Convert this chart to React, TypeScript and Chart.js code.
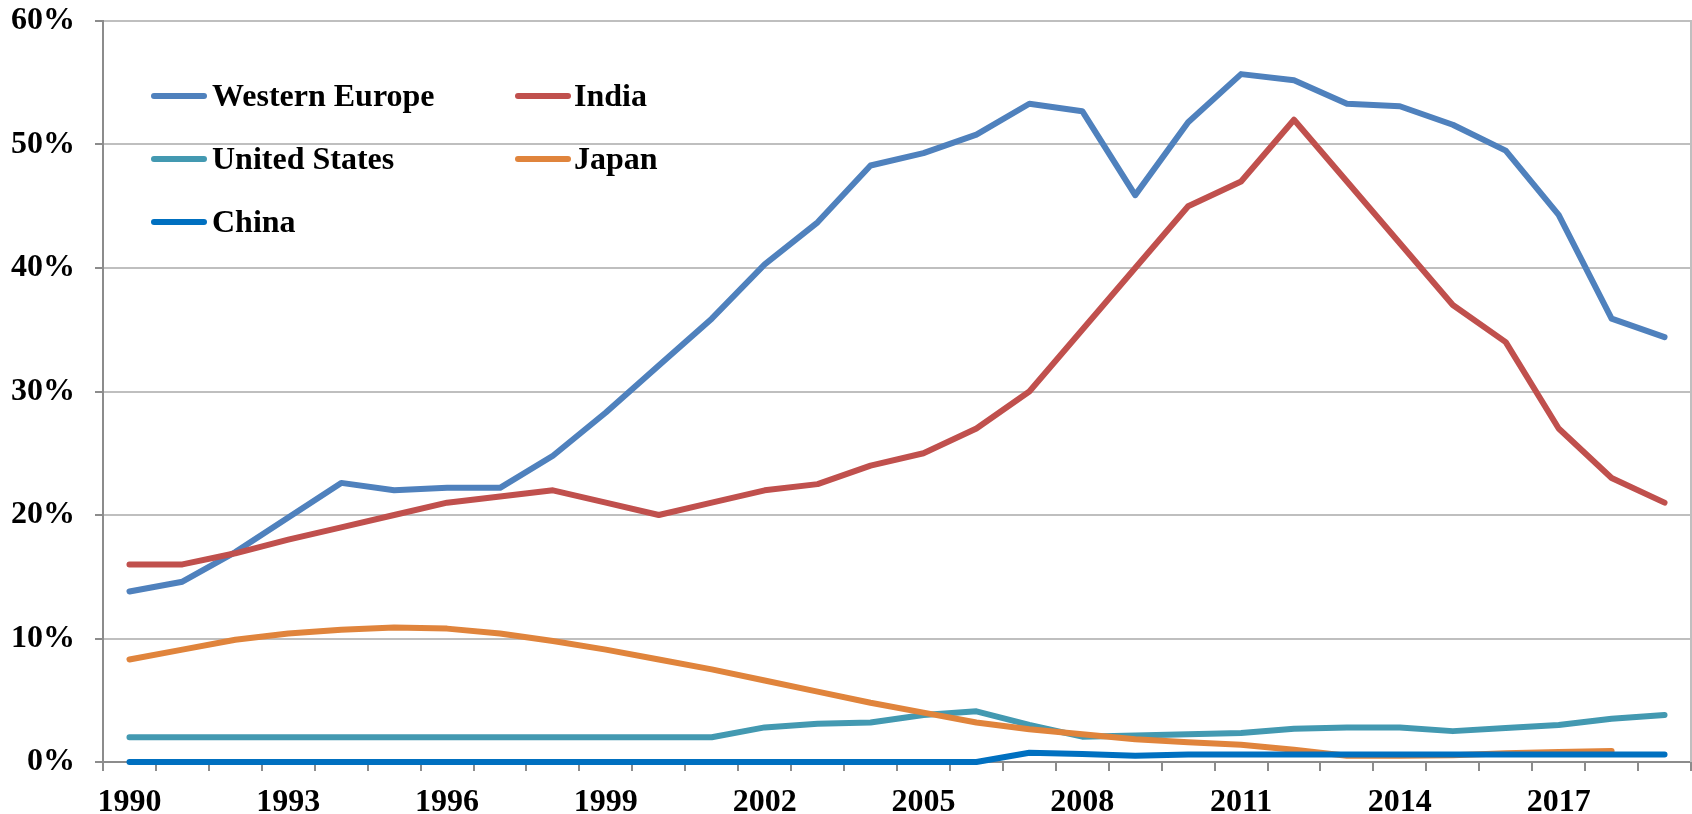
import React, { useEffect, useRef } from 'react';
import { Chart, registerables } from 'chart.js';

Chart.register(...registerables);

const years = [
  '1990', '1991', '1992', '1993', '1994', '1995', '1996', '1997', '1998', '1999',
  '2000', '2001', '2002', '2003', '2004', '2005', '2006', '2007', '2008', '2009',
  '2010', '2011', '2012', '2013', '2014', '2015', '2016', '2017', '2018', '2019',
];

const westernEurope = [
  13.8, 14.6, 17.0, 19.8, 22.6, 22.0, 22.2, 22.2, 24.8, 28.3,
  32.1, 35.9, 40.3, 43.7, 48.3, 49.3, 50.8, 53.3, 52.7, 45.9,
  51.8, 55.7, 55.2, 53.3, 53.1, 51.6, 49.5, 44.3, 35.9, 34.4,
];

const india = [
  16.0, 16.0, 16.9, 18.0, 19.0, 20.0, 21.0, 21.5, 22.0, 21.0,
  20.0, 21.0, 22.0, 22.5, 24.0, 25.0, 27.0, 30.0, 35.0, 40.0,
  45.0, 47.0, 52.0, 47.0, 42.0, 37.0, 34.0, 27.0, 23.0, 21.0,
];

const unitedStates = [
  2.0, 2.0, 2.0, 2.0, 2.0, 2.0, 2.0, 2.0, 2.0, 2.0,
  2.0, 2.0, 2.8, 3.1, 3.2, 3.8, 4.1, 3.0, 2.05, 2.15,
  2.25, 2.35, 2.7, 2.8, 2.8, 2.5, 2.75, 3.0, 3.5, 3.8,
];

const japan = [
  8.3, 9.1, 9.9, 10.4, 10.7, 10.9, 10.8, 10.4, 9.8, 9.1,
  8.3, 7.5, 6.6, 5.7, 4.8, 4.0, 3.2, 2.65, 2.25, 1.85,
  1.6, 1.4, 1.0, 0.5, 0.5, 0.55, 0.7, 0.8, 0.9, null,
];

const china = [
  0, 0, 0, 0, 0, 0, 0, 0, 0, 0,
  0, 0, 0, 0, 0, 0, 0, 0.75, 0.65, 0.5,
  0.6, 0.6, 0.6, 0.6, 0.6, 0.6, 0.6, 0.6, 0.6, 0.6,
];

const seriesNames = ['Western Europe', 'India', 'United States', 'Japan', 'China'];
const seriesColors = ['#4F81BD', '#C0504D', '#4399B1', '#E0843C', '#0070C0'];
const yTicks = [0, 10, 20, 30, 40, 50, 60];

const FONT_FAMILY = '"Liberation Serif", "Times New Roman", serif';
const FONT_SIZE = 32;
const LINE_WIDTH = 6;

const insideLegend = {
  id: 'insideLegend',
  afterDraw(chart: any) {
    const ctx = chart.ctx as CanvasRenderingContext2D;
    const cols = [
      { lineX: 151, textX: 212 },
      { lineX: 515, textX: 574 },
    ];
    const rowY = [96, 159, 222];
    ctx.save();
    ctx.font = `bold ${FONT_SIZE}px ${FONT_FAMILY}`;
    ctx.textBaseline = 'alphabetic';
    ctx.textAlign = 'left';
    chart.data.datasets.forEach((ds: any, i: number) => {
      const col = cols[i % 2];
      const y = rowY[Math.floor(i / 2)];
      ctx.strokeStyle = ds.borderColor;
      ctx.lineWidth = LINE_WIDTH;
      ctx.lineCap = 'round';
      ctx.beginPath();
      ctx.moveTo(col.lineX + 3, y);
      ctx.lineTo(col.lineX + 53, y);
      ctx.stroke();
      ctx.fillStyle = '#000000';
      ctx.fillText(ds.label, col.textX, y + 10);
    });
    ctx.restore();
  },
};

const rightBorder = {
  id: 'rightBorder',
  beforeDatasetsDraw(chart: any) {
    const { ctx, chartArea } = chart;
    ctx.save();
    ctx.strokeStyle = '#BFBFBF';
    ctx.lineWidth = 2;
    ctx.beginPath();
    ctx.moveTo(chartArea.right, chartArea.top - 1);
    ctx.lineTo(chartArea.right, chartArea.bottom);
    ctx.stroke();
    ctx.restore();
  },
};

export default function App() {
  const canvasRef = useRef<HTMLCanvasElement | null>(null);

  useEffect(() => {
    if (!canvasRef.current) return;
    const allSeries = [westernEurope, india, unitedStates, japan, china];
    const chart = new Chart(canvasRef.current, {
      type: 'line',
      data: {
        labels: years,
        datasets: allSeries.map((values, i) => ({
          label: seriesNames[i],
          data: values,
          borderColor: seriesColors[i],
          backgroundColor: seriesColors[i],
          borderWidth: LINE_WIDTH,
          pointRadius: 0,
          pointHoverRadius: 0,
          tension: 0,
          fill: false,
          clip: false as const,
          borderCapStyle: 'round' as const,
          borderJoinStyle: 'round' as const,
          order: allSeries.length - 1 - i,
        })),
      },
      options: {
        animation: false,
        responsive: false,
        layout: { padding: { top: 21, right: 1, left: 0, bottom: 0 } },
        plugins: {
          legend: { display: false },
          tooltip: { enabled: false },
          title: { display: false },
        },
        scales: {
          x: {
            type: 'category',
            offset: true,
            grid: {
              offset: true,
              drawOnChartArea: false,
              drawTicks: true,
              tickLength: 9,
              color: '#8C8C8C',
              lineWidth: 2,
            },
            border: { color: '#8C8C8C', width: 2 },
            ticks: {
              autoSkip: false,
              maxRotation: 0,
              minRotation: 0,
              padding: 13,
              color: '#000000',
              font: { family: FONT_FAMILY, size: FONT_SIZE, weight: 'bold' },
              callback: (_v: any, i: number) => (i % 3 === 0 ? years[i] : ''),
            },
            afterFit: (scale: any) => {
              scale.height = 52;
              scale.paddingLeft = 0;
              scale.paddingRight = 0;
            },
          },
          y: {
            min: yTicks[0],
            max: yTicks[yTicks.length - 1],
            afterBuildTicks: (scale: any) => {
              scale.ticks = yTicks.map((v) => ({ value: v }));
            },
            grid: {
              color: '#BFBFBF',
              lineWidth: 2,
              tickLength: 8,
              tickColor: '#8C8C8C',
            },
            border: { color: '#8C8C8C', width: 2 },
            ticks: {
              padding: 20,
              color: '#000000',
              font: { family: FONT_FAMILY, size: FONT_SIZE, weight: 'bold' },
              callback: (v: any) => `${v}%`,
            },
            afterFit: (scale: any) => {
              scale.width = 103;
              scale.paddingTop = 0;
              scale.paddingBottom = 0;
            },
          },
        },
      },
      plugins: [rightBorder, insideLegend],
    });
    return () => chart.destroy();
  }, []);

  return (
    <div style={{ position: 'absolute', left: 0, top: 0, width: 1692, height: 814, background: '#ffffff' }}>
      <canvas ref={canvasRef} width={1692} height={814} style={{ display: 'block', width: 1692, height: 814 }} />
    </div>
  );
}
